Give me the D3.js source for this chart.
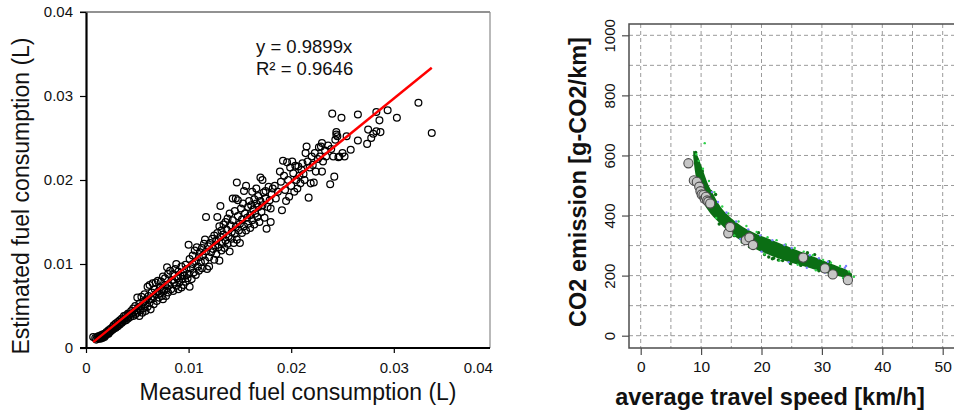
<!DOCTYPE html>
<html><head><meta charset="utf-8">
<script src="https://cdn.jsdelivr.net/npm/d3@7"></script>
<style>body{margin:0;background:#fff;} svg{display:block;font-family:"Liberation Sans",Arial,sans-serif;}</style>
</head><body>
<script>
// ---------- Left panel data: measured vs estimated fuel consumption (L) ----------
const measured = [.0007,.0009,.0010,.0011,.0012,.0012,.0013,.0014,.0014,.0015,.0016,.0016,.0017,.0018,.0018,.0019,.0020,.0020,.0021,.0022,.0022,.0023,.0024,.0024,.0025,.0026,.0026,.0027,.0027,.0028,.0029,.0029,.0030,.0031,.0031,.0032,.0033,.0033,.0034,.0035,.0035,.0036,.0037,.0037,.0038,.0039,.0039,.0040,.0041,.0041,
.0042,.0043,.0044,.0045,.0046,.0046,.0047,.0048,.0048,.0049,.0050,.0050,.0051,.0052,.0052,.0053,.0054,.0054,.0055,.0056,.0056,.0057,.0058,.0058,.0059,.0060,.0060,.0061,.0062,.0062,.0063,.0064,.0064,.0065,.0066,.0066,.0067,.0068,.0068,.0069,.0070,.0070,.0071,.0072,.0072,.0073,.0074,.0074,.0075,.0075,.0076,.0077,.0077,.0078,.0079,.0079,.0080,.0080,
.0081,.0082,.0083,.0084,.0085,.0085,.0086,.0087,.0088,.0088,.0089,.0090,.0090,.0091,.0092,.0093,.0093,.0094,.0095,.0095,.0096,.0097,.0097,.0098,.0099,.0100,.0100,.0101,.0101,.0102,.0103,.0104,.0104,.0105,.0106,.0107,.0107,.0108,.0109,.0110,.0110,.0111,.0112,.0113,.0113,.0114,.0115,.0116,.0116,.0117,.0117,.0118,.0119,.0120,.0120,.0121,
.0122,.0123,.0124,.0125,.0125,.0126,.0127,.0127,.0128,.0128,.0129,.0130,.0130,.0131,.0131,.0132,.0132,.0133,.0134,.0134,.0135,.0136,.0136,.0137,.0138,.0138,.0139,.0140,.0140,.0141,.0142,.0142,.0143,.0143,.0144,.0145,.0145,.0146,.0146,.0147,.0147,.0148,.0148,.0149,.0150,.0150,.0151,.0152,.0152,.0153,.0154,.0154,.0155,.0156,.0156,.0157,.0158,.0158,.0159,.0160,.0160,
.0161,.0162,.0162,.0163,.0164,.0164,.0165,.0166,.0166,.0167,.0168,.0168,.0169,.0170,.0170,.0171,.0172,.0172,.0173,.0174,.0175,.0175,.0176,.0177,.0178,.0179,.0180,.0180,.0181,.0182,.0184,.0185,.0187,.0189,.0190,.0191,.0192,.0193,.0194,.0195,.0196,.0197,.0198,.0199,.0200,
.0201,.0202,.0203,.0204,.0205,.0206,.0207,.0208,.0209,.0210,.0211,.0212,.0213,.0214,.0215,.0216,.0217,.0218,.0219,.0220,.0221,.0222,.0223,.0224,.0226,.0227,.0228,.0229,.0230,.0230,.0231,.0233,.0234,.0236,.0238,.0239,.0240,.0241,.0242,.0243,.0244,.0244,.0245,.0246,.0247,.0249,.0250,.0252,.0254,.0258,.0265,.0265,.0274,.0275,.0278,.0280,.0283,.0283,.0286,.0287,.0294,.0303,.0324,.0337];
const estimated = [.0013,.0012,.0010,.0013,.0011,.0014,.0012,.0015,.0011,.0013,.0016,.0012,.0014,.0017,.0013,.0015,.0019,.0016,.0018,.0021,.0017,.0019,.0023,.0020,.0021,.0025,.0022,.0027,.0023,.0025,.0029,.0024,.0027,.0031,.0026,.0029,.0033,.0028,.0031,.0035,.0030,.0033,.0038,.0032,.0035,.0039,.0033,.0036,.0041,.0035,
.0040,.0037,.0044,.0041,.0038,.0047,.0043,.0040,.0050,.0045,.0042,.0060,.0048,.0038,.0053,.0045,.0061,.0050,.0042,.0055,.0047,.0064,.0052,.0044,.0058,.0049,.0073,.0062,.0054,.0075,.0046,.0066,.0058,.0077,.0061,.0052,.0070,.0064,.0078,.0056,.0067,.0080,.0060,.0072,.0065,.0079,.0062,.0070,.0085,.0058,.0068,.0075,.0083,.0062,.0071,.0096,.0066,.0088,
.0075,.0092,.0070,.0081,.0088,.0068,.0078,.0094,.0074,.0100,.0083,.0070,.0091,.0078,.0086,.0097,.0072,.0082,.0075,.0090,.0086,.0079,.0099,.0094,.0083,.0123,.0088,.0073,.0106,.0095,.0082,.0110,.0100,.0090,.0116,.0103,.0087,.0120,.0097,.0108,.0092,.0114,.0102,.0119,.0095,.0110,.0124,.0129,.0104,.0156,.0115,.0094,.0121,.0108,.0097,.0125,
.0114,.0130,.0118,.0105,.0134,.0122,.0128,.0112,.0156,.0137,.0120,.0104,.0145,.0169,.0132,.0140,.0116,.0125,.0147,.0135,.0119,.0150,.0128,.0141,.0124,.0154,.0133,.0160,.0115,.0146,.0130,.0138,.0178,.0152,.0125,.0136,.0163,.0178,.0144,.0197,.0129,.0176,.0157,.0140,.0125,.0148,.0166,.0137,.0153,.0172,.0145,.0187,.0160,.0140,.0193,.0155,.0168,.0148,.0175,.0158,.0143,
.0170,.0186,.0152,.0165,.0177,.0147,.0160,.0172,.0190,.0156,.0168,.0181,.0150,.0203,.0175,.0162,.0200,.0170,.0185,.0155,.0178,.0187,.0142,.0168,.0192,.0176,.0150,.0166,.0183,.0190,.0193,.0178,.0186,.0210,.0198,.0164,.0223,.0205,.0188,.0175,.0221,.0200,.0180,.0215,.0193,
.0222,.0208,.0186,.0217,.0200,.0190,.0216,.0205,.0196,.0212,.0220,.0207,.0200,.0232,.0240,.0222,.0179,.0215,.0196,.0228,.0218,.0197,.0232,.0210,.0225,.0239,.0228,.0240,.0244,.0210,.0222,.0235,.0228,.0241,.0195,.0237,.0279,.0228,.0204,.0248,.0254,.0257,.0252,.0227,.0228,.0274,.0232,.0228,.0252,.0236,.0247,.0278,.0243,.0260,.0250,.0255,.0281,.0258,.0271,.0257,.0283,.0274,.0292,.0256];
const fitSlope = 0.9899;
const fitRange = [0.0007, 0.0337];
const fitText = ["y = 0.9899x", "R\u00b2 = 0.9646"];
const xTicks1 = [0, 0.01, 0.02, 0.03, 0.04];
const xLabels1 = ["0", "0.01", "0.02", "0.03", "0.04"];
const yTicks1 = [0, 0.01, 0.02, 0.03, 0.04];
const yLabels1 = ["0", "0.01", "0.02", "0.03", "0.04"];
const xTitle1 = "Measured fuel consumption (L)";
const yTitle1 = "Estimated fuel consumption (L)";

// ---------- Right panel data: average speed vs CO2 emission ----------
const bandSpeed = [8.7, 9.0, 9.5, 10, 10.5, 11, 12, 13, 14, 15, 16, 17, 18, 19, 20, 21, 22, 23, 24, 25, 26, 27, 28, 29, 30, 31, 32, 33, 34, 35];
const bandUpper = [616, 612, 595, 568, 540, 512, 472, 436, 410, 391, 375, 361, 350, 340, 332, 324, 316, 308, 300, 292, 284, 276, 268, 260, 252, 244, 236, 228, 220, 206];
const bandLower = [595, 545, 500, 458, 438, 422, 396, 376, 356, 339, 324, 311, 299, 289, 279, 271, 263, 256, 249, 243, 237, 231, 225, 219, 213, 207, 202, 197, 193, 190];
const lightSpeed = [10.6, 9.2, 9.6, 10.3, 11.3, 12.2, 13.5, 14.5, 16.2, 17.5, 19.2, 21, 22.5, 24, 25.5, 27, 28.5, 30.2, 31.5, 33, 35.3, 34.5, 12.5, 15.5, 18.5, 20.5, 23, 26, 29, 32, 33.5];
const lightCO2 = [641, 604, 582, 556, 515, 478, 430, 407, 380, 365, 345, 328, 318, 304, 292, 280, 268, 252, 243, 232, 196, 214, 392, 334, 296, 272, 250, 236, 218, 204, 192];
const blueSpeed = [11.8, 12.8, 14.2, 15.8, 17.8, 19.8, 21.8, 23.8, 25, 28, 29.5, 31, 33.8, 16.5, 20, 24.5, 27.5, 30.5, 34];
const blueCO2 = [478, 445, 410, 380, 354, 334, 318, 302, 292, 268, 258, 246, 226, 322, 280, 245, 226, 210, 232];
const darkSpeed = [21.2, 22, 23.5, 20.5, 18, 26.5, 29.5, 10.2, 9.4, 13, 15.5, 21.8, 22.8, 9.1, 11.6, 24.8, 28.8, 16.8, 19.5, 27.6, 31.2, 12.4];
const darkCO2 = [262, 258, 250, 270, 296, 234, 216, 548, 585, 372, 333, 256, 252, 610, 480, 240, 270, 312, 343, 276, 246, 470];
const measSpeed = [7.9, 8.8, 9.3, 9.7, 9.9, 10.1, 10.4, 10.6, 10.8, 11.0, 11.2, 11.5, 14.5, 14.8, 17.4, 18.0, 18.6, 26.9, 30.5, 31.8, 34.3];
const measCO2 = [574, 517, 512, 496, 481, 470, 468, 456, 462, 450, 446, 440, 341, 362, 318, 327, 302, 260, 224, 204, 185];
const xTicks2 = [0, 10, 20, 30, 40, 50];
const yTicks2 = [0, 200, 400, 600, 800, 1000];
const xGrid2 = [0, 5, 10, 15, 20, 25, 30, 35, 40, 45, 50, 55];
const yGrid2 = [0, 100, 200, 300, 400, 500, 600, 700, 800, 900, 1000];
const xTitle2 = "average travel speed [km/h]";
const yTitle2 = "CO2 emission [g-CO2/km]";

// ---------- Drawing ----------
const svg = d3.select("body").append("svg").attr("width", 954).attr("height", 414);

// Left panel
const x1 = d3.scaleLinear().domain([0, 0.04]).range([86, 496.4]);
const y1 = d3.scaleLinear().domain([0, 0.04]).range([348, 12]);
const L = svg.append("g");
L.append("line").attr("x1", 80).attr("x2", 490).attr("y1", 12).attr("y2", 12).attr("stroke", "#6e6e6e").attr("stroke-width", 1.6);
L.append("line").attr("x1", 490).attr("x2", 490).attr("y1", 12).attr("y2", 348).attr("stroke", "#8a8a8a").attr("stroke-width", 1.2);

const pts = measured.map((m, i) => [m, estimated[i]]);
L.append("g").selectAll("circle").data(pts).join("circle")
  .attr("cx", d => x1(d[0])).attr("cy", d => y1(d[1])).attr("r", 3.4)
  .attr("fill", "none").attr("stroke", "#000").attr("stroke-width", 1.25);

L.append("line").attr("x1", x1(fitRange[0])).attr("y1", y1(fitRange[0] * fitSlope))
  .attr("x2", x1(fitRange[1])).attr("y2", y1(fitRange[1] * fitSlope))
  .attr("stroke", "#ff0000").attr("stroke-width", 2.4);

const ax1 = L.append("g").attr("transform", "translate(86,0)")
  .call(d3.axisLeft(y1).tickValues(yTicks1).tickFormat((d, i) => yLabels1[i]).tickSize(6).tickSizeOuter(0).tickPadding(7));
ax1.select(".domain").attr("stroke", "#000").attr("stroke-width", 2.2);
ax1.selectAll(".tick line").attr("stroke", "#000").attr("stroke-width", 1.2);
ax1.selectAll("text").attr("font-size", 15).attr("fill", "#111").attr("font-family", "Liberation Sans, Arial, sans-serif");

const bx1 = L.append("g").attr("transform", "translate(0,348)")
  .call(d3.axisBottom(x1).tickValues(xTicks1).tickFormat((d, i) => xLabels1[i]).tickSize(5).tickSizeOuter(0).tickPadding(9));
bx1.select(".domain").remove();
bx1.selectAll(".tick line").attr("stroke", "#000").attr("stroke-width", 1.2);
bx1.selectAll(".tick").filter(d => d === 0.04).select("line").remove();
bx1.selectAll("text").attr("font-size", 15).attr("fill", "#111").attr("font-family", "Liberation Sans, Arial, sans-serif");
bx1.selectAll(".tick").filter(d => d === 0.04).select("text").attr("text-anchor", "end").attr("x", -4);
L.append("line").attr("x1", 80).attr("x2", 490).attr("y1", 348).attr("y2", 348).attr("stroke", "#000").attr("stroke-width", 2.2);

L.append("text").attr("x", 298).attr("y", 400).attr("text-anchor", "middle").attr("font-size", 23).attr("fill", "#111").text(xTitle1);
L.append("text").attr("transform", "translate(29,196) rotate(-90)").attr("text-anchor", "middle").attr("font-size", 23).attr("fill", "#111").text(yTitle1);
L.append("text").attr("x", 256).attr("y", 53).attr("font-size", 18.5).attr("fill", "#111").text(fitText[0]);
L.append("text").attr("x", 256).attr("y", 75).attr("font-size", 18.5).attr("fill", "#111").text(fitText[1]);

// Right panel
const x2 = d3.scaleLinear().domain([0, 50]).range([640.7, 942.7]);
const y2 = d3.scaleLinear().domain([0, 1000]).range([335.7, 35.3]);
const R = svg.append("g");
const gridG = R.append("g").attr("stroke", "#9a9a9a").attr("stroke-width", 1).attr("stroke-dasharray", "4,3");
gridG.selectAll(".vg").data(xGrid2).join("line").attr("x1", d => x2(d)).attr("x2", d => x2(d)).attr("y1", 24).attr("y2", 348);
gridG.selectAll(".hg").data(yGrid2).join("line").attr("y1", d => y2(d)).attr("y2", d => y2(d)).attr("x1", 629).attr("x2", 960);

const bandData = bandSpeed.map((s, i) => ({ s, u: bandUpper[i], l: bandLower[i] }));
R.append("path").datum(bandData)
  .attr("d", d3.area().x(d => x2(d.s)).y0(d => y2(d.l)).y1(d => y2(d.u)).curve(d3.curveMonotoneX))
  .attr("fill", "#0b6e14");

R.append("g").selectAll("circle").data(darkSpeed.map((s, i) => [s, darkCO2[i]])).join("circle")
  .attr("cx", d => x2(d[0])).attr("cy", d => y2(d[1])).attr("r", 1.7).attr("fill", "#0b6e14");
R.append("g").selectAll("circle").data(lightSpeed.map((s, i) => [s, lightCO2[i]])).join("circle")
  .attr("cx", d => x2(d[0])).attr("cy", d => y2(d[1])).attr("r", 1.2).attr("fill", "#2fd04a");
R.append("g").selectAll("circle").data(blueSpeed.map((s, i) => [s, blueCO2[i]])).join("circle")
  .attr("cx", d => x2(d[0])).attr("cy", d => y2(d[1])).attr("r", 1.2).attr("fill", "#7a7cff");

R.append("g").selectAll("circle").data(measSpeed.map((s, i) => [s, measCO2[i]])).join("circle")
  .attr("cx", d => x2(d[0])).attr("cy", d => y2(d[1])).attr("r", 4.6)
  .attr("fill", "#c6c6c6").attr("stroke", "#4a4a4a").attr("stroke-width", 1.1);

R.append("rect").attr("x", 629).attr("y", 24).attr("width", 400).attr("height", 324)
  .attr("fill", "none").attr("stroke", "#4d4d4d").attr("stroke-width", 1.5);

const ax2 = R.append("g").attr("transform", "translate(629,0)")
  .call(d3.axisLeft(y2).tickValues(yTicks2).tickFormat(d3.format("d")).tickSize(7).tickSizeOuter(0));
ax2.select(".domain").remove();
ax2.selectAll(".tick line").attr("stroke", "#4d4d4d").attr("stroke-width", 1.2);
ax2.selectAll("text").attr("x", null).attr("dy", null).attr("text-anchor", "middle")
  .attr("transform", "translate(-14,0) rotate(-90)").attr("font-size", 15).attr("fill", "#111")
  .attr("font-family", "Liberation Sans, Arial, sans-serif");

const bx2 = R.append("g").attr("transform", "translate(0,348)")
  .call(d3.axisBottom(x2).tickValues(xTicks2).tickFormat(d3.format("d")).tickSize(7).tickSizeOuter(0).tickPadding(6));
bx2.select(".domain").remove();
bx2.selectAll(".tick line").attr("stroke", "#4d4d4d").attr("stroke-width", 1.2);
bx2.selectAll("text").attr("font-size", 15.5).attr("fill", "#111").attr("font-family", "Liberation Sans, Arial, sans-serif");

R.append("text").attr("x", 770).attr("y", 405).attr("text-anchor", "middle").attr("font-size", 23.5).attr("font-weight", "bold").attr("fill", "#111").text(xTitle2);
R.append("text").attr("transform", "translate(586,182) rotate(-90)").attr("text-anchor", "middle").attr("font-size", 23.5).attr("font-weight", "bold").attr("fill", "#111").text(yTitle2);
</script>
</body></html>
